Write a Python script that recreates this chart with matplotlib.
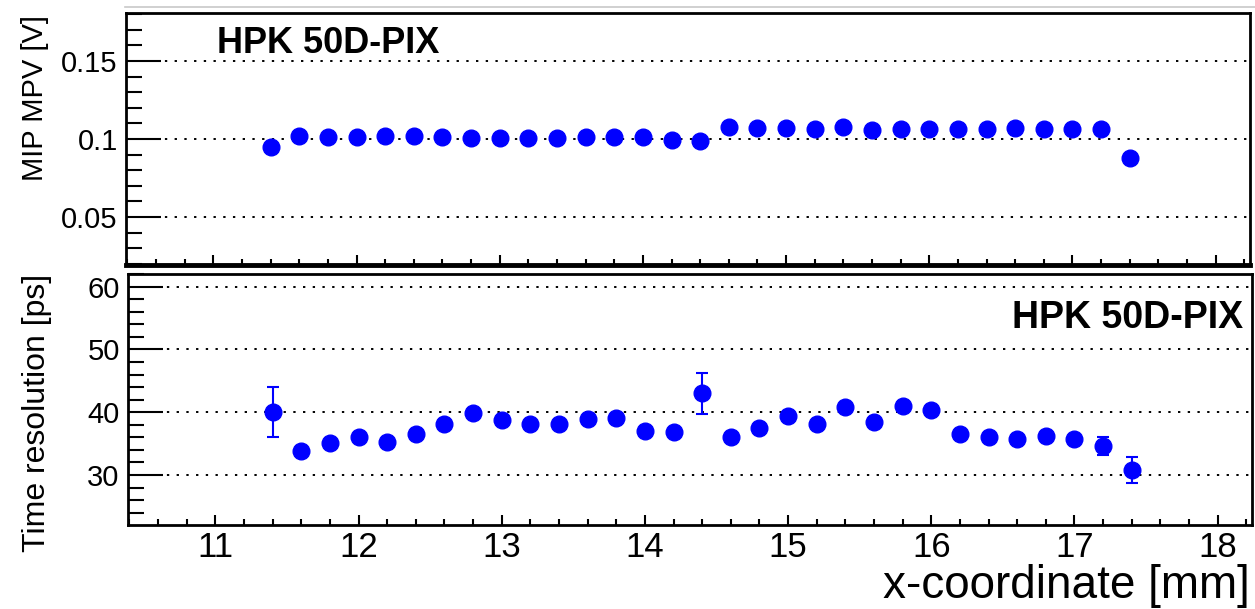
import matplotlib
matplotlib.use("Agg")
import matplotlib.pyplot as plt
import numpy as np
from matplotlib.ticker import MultipleLocator
from matplotlib.lines import Line2D

plt.rcParams['font.family'] = ['Liberation Sans', 'DejaVu Sans']

# x positions (mm)
x_pos = [11.4, 11.6, 11.8, 12.0, 12.2, 12.4, 12.6, 12.8, 13.0, 13.2, 13.4,
         13.6, 13.8, 14.0, 14.2, 14.4, 14.6, 14.8, 15.0, 15.2, 15.4, 15.6,
         15.8, 16.0, 16.2, 16.4, 16.6, 16.8, 17.0, 17.2, 17.4]

# MIP MPV [V]
mpv = [0.0951, 0.1021, 0.1015, 0.1015, 0.1019, 0.1019, 0.1013, 0.1006, 0.1008,
       0.1008, 0.1008, 0.1015, 0.1015, 0.1015, 0.0994, 0.0989, 0.1075, 0.1069,
       0.1071, 0.1066, 0.1075, 0.1060, 0.1064, 0.1066, 0.1064, 0.1066, 0.1071,
       0.1066, 0.1066, 0.1062, 0.0878]

# time resolution [ps]
tres = [40.0, 33.8, 35.1, 36.1, 35.2, 36.5, 38.1, 39.8, 38.8, 38.1, 38.1,
        38.9, 39.1, 37.0, 36.8, 43.0, 36.1, 37.5, 39.4, 38.1, 40.8, 38.4,
        41.0, 40.3, 36.5, 36.0, 35.7, 36.2, 35.8, 34.6, 30.8]
tres_err = [4.0, 0.8, 0.8, 0.8, 0.8, 0.8, 0.8, 0.8, 0.8, 0.8, 0.8,
            0.8, 0.8, 0.8, 0.8, 3.25, 0.8, 0.8, 0.8, 0.8, 0.8, 0.8,
            0.8, 0.8, 0.8, 0.8, 0.8, 0.8, 0.8, 1.4, 2.1]

blue = (0, 0, 1)

fig = plt.figure(figsize=(12.55, 6.09), dpi=100)
ax1 = fig.add_axes([0.1004, 0.5649, 0.8956, 0.4138])
ax2 = fig.add_axes([0.1020, 0.1379, 0.8956, 0.4122])

dots = (0, (1.2, 3.8))

def style(ax, ymaj, ymin):
	ax.set_xlim(10.39, 18.24)
	ax.xaxis.set_major_locator(MultipleLocator(1))
	ax.xaxis.set_minor_locator(MultipleLocator(0.2))
	ax.yaxis.set_major_locator(MultipleLocator(ymaj))
	ax.yaxis.set_minor_locator(MultipleLocator(ymin))
	ax.tick_params(axis='y', which='major', direction='in', length=25, width=1.5, labelsize=21, pad=6)
	ax.tick_params(axis='y', which='minor', direction='in', length=11.5, width=1.5)
	ax.tick_params(axis='x', which='major', direction='in', length=7, width=1.5, labelsize=25, pad=4)
	ax.tick_params(axis='x', which='minor', direction='in', length=4, width=1.5)
	for s in ax.spines.values():
		s.set_linewidth(2)
	ax.grid(axis='y', which='major', color='k', linestyle=dots, linewidth=1.4)
	ax.set_axisbelow(True)

style(ax1, 0.05, 0.01)
ax1.set_ylim(0.0192, 0.1808)
ax1.tick_params(axis='x', labelbottom=False)
ax1.spines['bottom'].set_linewidth(3.5)
ax1.yaxis.set_major_formatter(matplotlib.ticker.FuncFormatter(lambda v, p: ('%g' % round(v, 3))))
ax1.plot(x_pos, mpv, 'o', color=blue, markersize=12, zorder=3)
ax1.text(0.081, 0.88, 'HPK 50D-PIX', transform=ax1.transAxes, fontsize=26,
         fontweight='bold', ha='left', va='center')

style(ax2, 10, 2)
ax2.set_ylim(22.04, 62.0)
ax2.errorbar(x_pos, tres, yerr=tres_err, fmt='o', color=blue, markersize=12,
             elinewidth=1.5, capsize=4, capthick=1.5, zorder=3)
ax2.text(0.992, 0.825, 'HPK 50D-PIX', transform=ax2.transAxes, fontsize=27,
         fontweight='bold', ha='right', va='center')

fig.text(35 / 1255, 1 - 98 / 609, 'MIP MPV [V]', rotation=90, fontsize=21,
         ha='center', va='center')
fig.text(37 / 1255, 1 - 413 / 609, 'Time resolution [ps]', rotation=90, fontsize=23,
         ha='center', va='center')
fig.text(1250 / 1255, 1 - 586 / 609, 'x-coordinate [mm]', fontsize=33,
         ha='right', va='center')

# faint line above the top pad
fig.add_artist(Line2D([125 / 1255, 1.0], [1 - 7 / 609, 1 - 7 / 609], color='#c8c8c8', lw=1.2))

fig.savefig('out.png', dpi=100)
